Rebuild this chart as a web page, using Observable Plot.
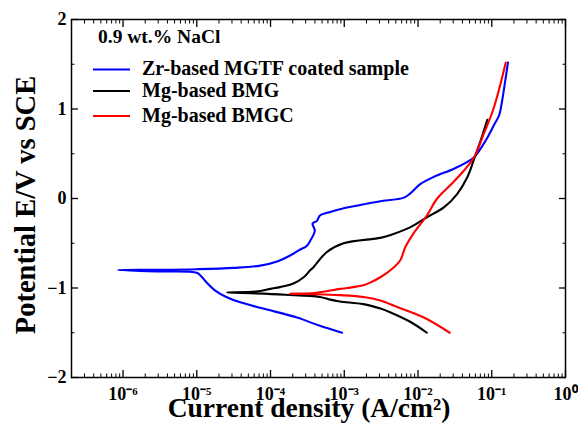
<!DOCTYPE html>
<html><head><meta charset="utf-8">
<script src="https://cdn.jsdelivr.net/npm/d3@7"></script>
<script src="https://cdn.jsdelivr.net/npm/@observablehq/plot@0.6"></script>
<style>
body{margin:0;background:#fff}
#wrap{position:relative;width:578px;height:435px}
#wrap svg{display:block}
#overlay{position:absolute;left:0;top:0;pointer-events:none}
</style>
</head><body><div id="wrap"><div id="chart"></div></div>
<script>
// Series names and colours
const seriesNames = ["Zr-based MGTF coated sample", "Mg-based BMG", "Mg-based BMGC"];
const seriesColors = ["#0000ff", "#000000", "#ff0000"];

// Zr-based MGTF coated sample: log10(current density, A/cm2) and potential (V vs SCE)
const zrLogI = [-3.03,-3.34,-3.64,-4.10,-4.41,-4.60,-4.75,-4.87,-4.95,-5.00,-5.50,-6.07,-5.50,-5.00,-4.50,-4.14,-3.90,-3.74,-3.62,-3.51,-3.46,-3.40,-3.43,-3.37,-3.33,-3.19,-3.06,-2.83,-2.65,-2.51,-2.19,-2.10,-1.97,-1.79,-1.52,-1.33,-1.24,-1.11,-1.06,-0.97,-0.90,-0.86,-0.82,-0.78];
const zrE    = [-1.50,-1.42,-1.33,-1.23,-1.16,-1.10,-1.03,-0.935,-0.86,-0.83,-0.815,-0.80,-0.797,-0.79,-0.775,-0.75,-0.70,-0.64,-0.58,-0.53,-0.47,-0.36,-0.28,-0.25,-0.19,-0.15,-0.12,-0.08,-0.05,-0.03,0.01,0.06,0.16,0.24,0.33,0.41,0.46,0.61,0.68,0.82,0.93,1.09,1.30,1.52];

// Mg-based BMG
const bmgLogI = [-1.88,-2.10,-2.38,-2.51,-2.74,-3.06,-3.19,-3.33,-3.80,-4.20,-4.59,-4.20,-4.00,-3.87,-3.69,-3.55,-3.46,-3.42,-3.24,-3.01,-2.51,-2.38,-2.10,-1.88,-1.65,-1.47,-1.33,-1.24,-1.15,-1.06];
const bmgE    = [-1.50,-1.38,-1.27,-1.23,-1.18,-1.15,-1.13,-1.10,-1.075,-1.06,-1.05,-1.04,-1.01,-0.99,-0.95,-0.88,-0.80,-0.77,-0.60,-0.50,-0.44,-0.41,-0.32,-0.21,-0.10,0.05,0.24,0.44,0.65,0.88];

// Mg-based BMGC
const bmgcLogI = [-1.57,-1.92,-2.29,-2.51,-2.74,-3.06,-3.40,-3.74,-3.40,-3.06,-2.96,-2.74,-2.65,-2.51,-2.33,-2.24,-2.17,-2.06,-1.88,-1.74,-1.56,-1.38,-1.24,-1.11,-0.97,-0.81];
const bmgcE    = [-1.50,-1.33,-1.21,-1.14,-1.10,-1.08,-1.07,-1.065,-1.055,-1.01,-1.00,-0.97,-0.94,-0.88,-0.77,-0.69,-0.54,-0.39,-0.19,0.00,0.15,0.31,0.46,0.72,1.02,1.52];

// Axis ticks and labels
const xTickExp = [-6,-5,-4,-3,-2,-1,0];
const xTicks = xTickExp.map(e => Math.pow(10, e));
const xMinor = [];
for (let e = -7; e < 0; e++) for (let m = 2; m <= 9; m++) { const v = m * Math.pow(10, e); if (v >= 2e-7 * 0.999) xMinor.push(v); }
const yTicks = [-2,-1,0,1,2];
const yMinor = [-1.5,-0.5,0.5,1.5];
const xDomain = [2e-7, 1];
const yDomain = [-2, 2];
const legendTitle = "0.9 wt.% NaCl";
const xTitle = "Current density (A/cm²)";
const yTitle = "Potential E/V vs SCE";

const rows = [];
[[zrLogI, zrE], [bmgLogI, bmgE], [bmgcLogI, bmgcE]].forEach(([li, e], s) => {
  li.forEach((v, i) => rows.push({series: seriesNames[s], I: Math.pow(10, v), E: e[i]}));
});

const FONT = "'Liberation Serif', 'Times New Roman', serif";
const SUP = {"-": "\u207B", "0": "\u2070", "1": "\u00B9", "2": "\u00B2", "3": "\u00B3", "4": "\u2074", "5": "\u2075", "6": "\u2076", "7": "\u2077", "8": "\u2078", "9": "\u2079"};
const supFmt = d => "10" + String(Math.round(Math.log10(d))).split("").map(c => SUP[c]).join("");
const blank = () => "";

const chart = Plot.plot({
  width: 578, height: 435,
  marginLeft: 71, marginRight: 13, marginTop: 19, marginBottom: 58,
  style: {fontFamily: FONT, fontWeight: "bold", background: "#fff", color: "#000"},
  x: {type: "log", domain: xDomain},
  y: {domain: yDomain},
  color: {domain: seriesNames, range: seriesColors},
  marks: [
    Plot.line(rows, {x: "I", y: "E", z: "series", stroke: "series", strokeWidth: 2.1, curve: "catmull-rom"}),
    Plot.axisX({anchor: "bottom", ticks: xTicks, tickSize: -7, tickPadding: 17, fontSize: 18, tickFormat: supFmt, label: null, strokeWidth: 1.3}),
    Plot.axisX({anchor: "bottom", ticks: xMinor, tickSize: -3.5, tickFormat: blank, label: null}),
    Plot.axisX({anchor: "top", ticks: xTicks, tickSize: -7, tickFormat: blank, label: null, strokeWidth: 1.3}),
    Plot.axisX({anchor: "top", ticks: xMinor, tickSize: -3.5, tickFormat: blank, label: null}),
    Plot.axisY({anchor: "left", ticks: yTicks, tickSize: -7, tickPadding: 12, fontSize: 18,
      tickFormat: d => d < 0 ? "\u2212" + Math.abs(d) : String(d), label: null, strokeWidth: 1.3}),
    Plot.axisY({anchor: "left", ticks: yMinor, tickSize: -3.5, tickFormat: blank, label: null}),
    Plot.axisY({anchor: "right", ticks: yTicks, tickSize: -7, tickFormat: blank, label: null, strokeWidth: 1.3}),
    Plot.axisY({anchor: "right", ticks: yMinor, tickSize: -3.5, tickFormat: blank, label: null}),
    Plot.frame({stroke: "#000", strokeWidth: 1.5})
  ]
});
document.getElementById("chart").appendChild(chart);

// Titles and in-plot legend in a transparent overlay
const ov = d3.select("#wrap").append("svg").attr("id", "overlay")
  .attr("width", 578).attr("height", 435)
  .style("font-family", FONT).style("font-weight", "bold");
ov.append("text").attr("x", 309).attr("y", 417).attr("text-anchor", "middle")
  .style("font-size", "27.5px").attr("fill", "#000").text(xTitle);
ov.append("text").attr("transform", "translate(35,205) rotate(-90)").attr("text-anchor", "middle")
  .style("font-size", "28.5px").attr("fill", "#000").text(yTitle);
ov.append("text").attr("x", 98).attr("y", 42.5).style("font-size", "19.5px").attr("fill", "#000").text(legendTitle);
const ly = [69.5, 91, 116];
seriesNames.forEach((n, i) => {
  ov.append("line").attr("x1", 93).attr("x2", 130).attr("y1", ly[i]).attr("y2", ly[i])
    .attr("stroke", seriesColors[i]).attr("stroke-width", 2);
  ov.append("text").attr("x", 142).attr("y", ly[i] + 5.5).style("font-size", "20px").attr("fill", "#000").text(n);
});
</script>
</body></html>
